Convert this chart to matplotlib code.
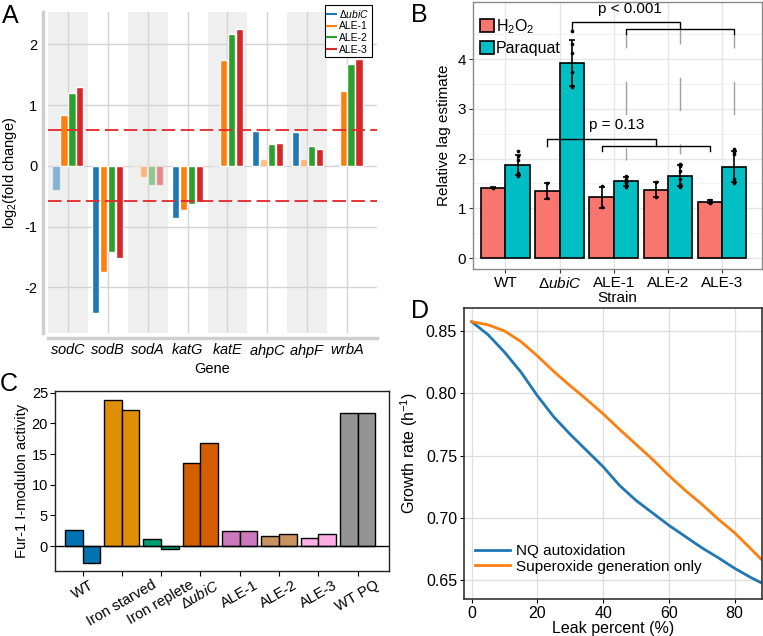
import matplotlib
matplotlib.use("Agg")
import matplotlib.pyplot as plt
import numpy as np
from matplotlib.patches import Patch
from matplotlib.lines import Line2D

plt.rcParams['font.family'] = ['Liberation Sans', 'DejaVu Sans']
plt.rcParams['mathtext.fontset'] = 'custom'
plt.rcParams['mathtext.rm'] = 'Liberation Sans'
plt.rcParams['mathtext.it'] = 'Liberation Sans:italic'
plt.rcParams['mathtext.bf'] = 'Liberation Sans:bold'
plt.rcParams['axes.unicode_minus'] = False

W, H = 763, 636

# ---- panel A: log2 fold change of ROS genes
genes = ['sodC', 'sodB', 'sodA', 'katG', 'katE', 'ahpC', 'ahpF', 'wrbA']
strains_a = [r'$\Delta\mathit{ubiC}$', 'ALE-1', 'ALE-2', 'ALE-3']
fc_ubic = [-0.39, -2.42, 0.0, -0.86, 0.0, 0.57, 0.55, 0.02]
fc_ale1 = [0.84, -1.75, -0.19, -0.72, 1.74, 0.12, 0.12, 1.23]
fc_ale2 = [1.20, -1.42, -0.31, -0.63, 2.17, 0.36, 0.32, 1.67]
fc_ale3 = [1.30, -1.51, -0.31, -0.60, 2.25, 0.37, 0.27, 1.76]
sig_ubic = [0, 1, 0, 1, 0, 1, 1, 0]
sig_ale1 = [1, 1, 0, 1, 1, 0, 0, 1]
sig_ale2 = [1, 1, 0, 1, 1, 1, 1, 1]
sig_ale3 = [1, 1, 0, 1, 1, 1, 1, 1]
fc_cutoff = 0.585

# ---- panel B: relative lag
strains_b = ['WT', r'$\Delta\mathit{ubiC}$', 'ALE-1', 'ALE-2', 'ALE-3']
lag_h2o2 = [1.41, 1.35, 1.22, 1.37, 1.13]
lag_pq = [1.87, 3.93, 1.54, 1.66, 1.84]
sd_h2o2 = [0.01, 0.16, 0.21, 0.15, 0.03]
sd_pq = [0.20, 0.46, 0.10, 0.22, 0.32]
pts_h2o2 = [[1.41], [1.50, 1.20], [1.45, 1.02], [1.53, 1.22], [1.17, 1.12, 1.10]]
pts_pq = [[2.15, 2.05, 1.98, 1.72, 1.68, 1.66],
          [4.57, 4.30, 4.12, 3.75, 3.47, 3.45],
          [1.66, 1.60, 1.52, 1.50, 1.42],
          [1.90, 1.85, 1.75, 1.60, 1.48, 1.42],
          [2.20, 2.14, 2.10, 1.60, 1.53, 1.50]]

# ---- panel C: Fur-1 iModulon activity
conds = ['WT', 'Iron starved', 'Iron replete', r'$\Delta\mathit{ubiC}$',
         'ALE-1', 'ALE-2', 'ALE-3', 'WT PQ']
fur_rep1 = [2.7, 23.9, 1.1, 13.5, 2.45, 1.6, 1.4, 21.7]
fur_rep2 = [-2.75, 22.2, -0.55, 16.8, 2.45, 2.0, 2.0, 21.7]
cond_colors = ['#0173b2', '#de8f05', '#029e73', '#d55e00',
               '#cc78bc', '#ca9161', '#fbafe4', '#949494']

# ---- panel D: growth rate vs leak
leak = [0, 5, 10, 15, 20, 25, 30, 35, 40, 45, 50, 55, 60, 65, 70, 75, 80, 85, 88]
gr_nq = [0.8575, 0.847, 0.833, 0.817, 0.798, 0.781, 0.767, 0.754, 0.741, 0.726,
         0.714, 0.704, 0.694, 0.685, 0.676, 0.668, 0.6595, 0.652, 0.648]
gr_sox = [0.8575, 0.855, 0.850, 0.8415, 0.830, 0.8175, 0.806, 0.795, 0.7835, 0.771,
          0.759, 0.747, 0.734, 0.722, 0.711, 0.699, 0.688, 0.675, 0.667]


def ax_px(fig, l, t, r, b):
    return fig.add_axes([l / W, 1 - b / H, (r - l) / W, (b - t) / H])


fig = plt.figure(figsize=(W / 100, H / 100), dpi=100)

# ================= A =================
ax = ax_px(fig, 48, 12, 377, 333)
xg = np.arange(len(genes))
for i in range(0, len(genes), 2):
    ax.axvspan(i - 0.5, i + 0.5, color='#efefef', zorder=0, lw=0)
for yv in [-2, -1, 0, 1, 2]:
    ax.axhline(yv, color='#d4d4d4', lw=1, zorder=1)
for xv in xg:
    ax.axvline(xv, color='#d4d4d4', lw=1, zorder=1)
a_cols = ['#1f77b4', '#ff7f0e', '#2ca02c', '#d62728']
series = [(fc_ubic, sig_ubic), (fc_ale1, sig_ale1), (fc_ale2, sig_ale2), (fc_ale3, sig_ale3)]
offs = [-0.3, -0.1, 0.1, 0.3]
for (vals, sig), off, c in zip(series, offs, a_cols):
    for x, v, s in zip(xg, vals, sig):
        ax.bar(x + off, v, width=0.18, color=c, alpha=1.0 if s else 0.5,
               edgecolor='white', lw=1, zorder=3)
for yv in [fc_cutoff, -fc_cutoff]:
    ax.axhline(yv, color='#e3262a', lw=1.3, ls=(0, (7.5, 3)), zorder=4)
ax.set_xlim(-0.5, 7.75)
ax.set_ylim(-2.75, 2.53)
ax.set_xticks(xg)
ax.set_xticklabels([r'$\mathit{%s}$' % g for g in genes])
ax.set_yticks([-2, -1, 0, 1, 2])
ax.tick_params(length=0, labelsize=10.5)
ax.tick_params(axis='y', pad=4)
ax.tick_params(axis='x', pad=3)
for s in ['top', 'right']:
    ax.spines[s].set_visible(False)
for s in ['left', 'bottom']:
    ax.spines[s].set_position(('outward', 3.6))
    ax.spines[s].set_color('#cfcfcf')
    ax.spines[s].set_linewidth(2.5)
ax.set_xlabel('Gene', fontsize=10.5, labelpad=1)
ax.set_ylabel(r'log$_2$(fold change)', fontsize=10.5, labelpad=4)
handles = [Line2D([], [], color=c, lw=1.5) for c in a_cols]
leg = fig.legend(handles, strains_a, loc='upper right', bbox_to_anchor=(377 / W, 1.0),
                 fontsize=7.5, handlelength=0.8, handletextpad=0.3, labelspacing=0.15,
                 borderpad=0.25, fancybox=False, framealpha=1)
leg.get_frame().set_edgecolor('black')
leg.get_frame().set_linewidth(0.8)

# ================= B =================
bx = ax_px(fig, 473, 2, 761.5, 269)
xb = np.arange(len(strains_b))
bx.set_axisbelow(True)
bx.set_yticks([0, 1, 2, 3, 4])
bx.set_yticks(np.arange(0.5, 5.0, 1.0), minor=True)
bx.grid(which='major', color='#e6e6e6', lw=1)
bx.grid(which='minor', axis='y', color='#f0f0f0', lw=0.6)
bw = 0.45
for xs, vals, sds, pts, c in [(xb - bw / 2, lag_h2o2, sd_h2o2, pts_h2o2, '#f8766d'),
                              (xb + bw / 2, lag_pq, sd_pq, pts_pq, '#00bfc4')]:
    bx.bar(xs, vals, width=bw, color=c, edgecolor='black', lw=1.2, zorder=2)
    bx.errorbar(xs, vals, yerr=sds, fmt='none', ecolor='black', elinewidth=1.2,
                capsize=2.5, capthick=1.2, zorder=4)
    for x, p in zip(xs, pts):
        bx.scatter([x] * len(p), p, s=7, color='black', zorder=5, lw=0)


# significance brackets
def bracket(ax_, x1, x2, y, drop1, drop2):
    ax_.plot([x1, x1, x2, x2], [y - drop1, y, y, y - drop2], color='black', lw=1, zorder=6)


pq_x = xb + bw / 2
h_x = xb - bw / 2
bracket(bx, pq_x[1], pq_x[3], 4.74, 0.16, 0.13)
bracket(bx, pq_x[2], pq_x[4], 4.61, 0.10, 0.10)
bracket(bx, h_x[1], h_x[3], 2.40, 0.15, 0.15)
bracket(bx, h_x[2], h_x[4], 2.25, 0.09, 0.09)
for x, ytop, ybot in [(pq_x[2], 4.51, 1.97), (pq_x[3], 4.58, 2.10), (pq_x[4], 4.51, 2.31)]:
    bx.plot([x, x], [ytop, ybot], color='#a0a0a0', lw=1, ls=(14, (24, 24)), zorder=3)
bx.text(2.3, 5.0, 'p < 0.001', ha='center', va='center', fontsize=11)
bx.text(2.05, 2.67, 'p = 0.13', ha='center', va='center', fontsize=11)

bx.set_xlim(-0.6, 4.73)
bx.set_ylim(-0.22, 5.15)
bx.set_xticks(xb)
bx.set_xticklabels(strains_b, fontsize=11)
bx.tick_params(which='major', length=3, color='#333333', labelsize=11, pad=2)
bx.tick_params(which='minor', length=0)
for s in bx.spines.values():
    s.set_color('#8a8a8a')
    s.set_linewidth(1)
bx.set_xlabel('Strain', fontsize=11, labelpad=0)
bx.set_ylabel('Relative lag estimate', fontsize=11, labelpad=5)
leg_b = bx.legend([Patch(facecolor='#f8766d', edgecolor='black', lw=1.2),
                   Patch(facecolor='#00bfc4', edgecolor='black', lw=1.2)],
                  [r'H$_2$O$_2$', 'Paraquat'], loc='upper left', bbox_to_anchor=(-0.01, 0.98),
                  frameon=False, fontsize=11.5, handlelength=0.9, handleheight=0.9,
                  handletextpad=0.1, labelspacing=0.35, borderaxespad=0.2)

# ================= C =================
cx = ax_px(fig, 55, 391, 389, 571)
xc = np.arange(len(conds))
cx.bar(xc - 0.225, fur_rep1, width=0.45, color=cond_colors, edgecolor='black', lw=1, zorder=2)
cx.bar(xc + 0.225, fur_rep2, width=0.45, color=cond_colors, edgecolor='black', lw=1, zorder=2)
cx.axhline(0, color='black', lw=1, zorder=3)
cx.set_xlim(-0.7, 7.8)
cx.set_ylim(-4.06, 25.3)
cx.set_yticks([0, 5, 10, 15, 20, 25])
cx.set_xticks(xc)
cx.set_xticklabels(conds, rotation=30, fontsize=10.5)
cx.tick_params(length=3.5, labelsize=10.5, pad=1.5)
for s in cx.spines.values():
    s.set_color('#222222')
    s.set_linewidth(1)
cx.set_ylabel('Fur-1 I-modulon activity', fontsize=10.5, labelpad=2)

# ================= D =================
dx = ax_px(fig, 464, 308, 761.5, 599)
dx.grid(color='#dedede', lw=0.9)
dx.set_axisbelow(True)
dx.plot(leak, gr_nq, color='#1f77b4', lw=2, label='NQ autoxidation')
dx.plot(leak, gr_sox, color='#ff7f0e', lw=2, label='Superoxide generation only')
dx.set_xlim(-2.34, 88.2)
dx.set_ylim(0.6348, 0.8685)
dx.set_xticks([0, 20, 40, 60, 80])
dx.set_yticks([0.65, 0.70, 0.75, 0.80, 0.85])
dx.set_yticklabels(['0.65', '0.70', '0.75', '0.80', '0.85'])
dx.tick_params(length=3, labelsize=11.5, pad=2)
for s in dx.spines.values():
    s.set_color('#333333')
    s.set_linewidth(1.2)
dx.set_xlabel('Leak percent (%)', fontsize=11.5, labelpad=0)
dx.set_ylabel(r'Growth rate (h$^{-1}$)', fontsize=11.5, labelpad=4)
dx.legend(loc='lower left', bbox_to_anchor=(0.0, 0.05), frameon=False, fontsize=11,
          handlelength=2.3, handletextpad=0.4, labelspacing=0.1, borderaxespad=0.3)

# panel letters
for lab, x, y in [('A', 2, 4), ('B', 411, 3), ('C', 0, 372), ('D', 411, 299)]:
    fig.text(x / W, 1 - y / H, lab, fontsize=18, ha='left', va='top')

fig.savefig('out.png', dpi=100)
